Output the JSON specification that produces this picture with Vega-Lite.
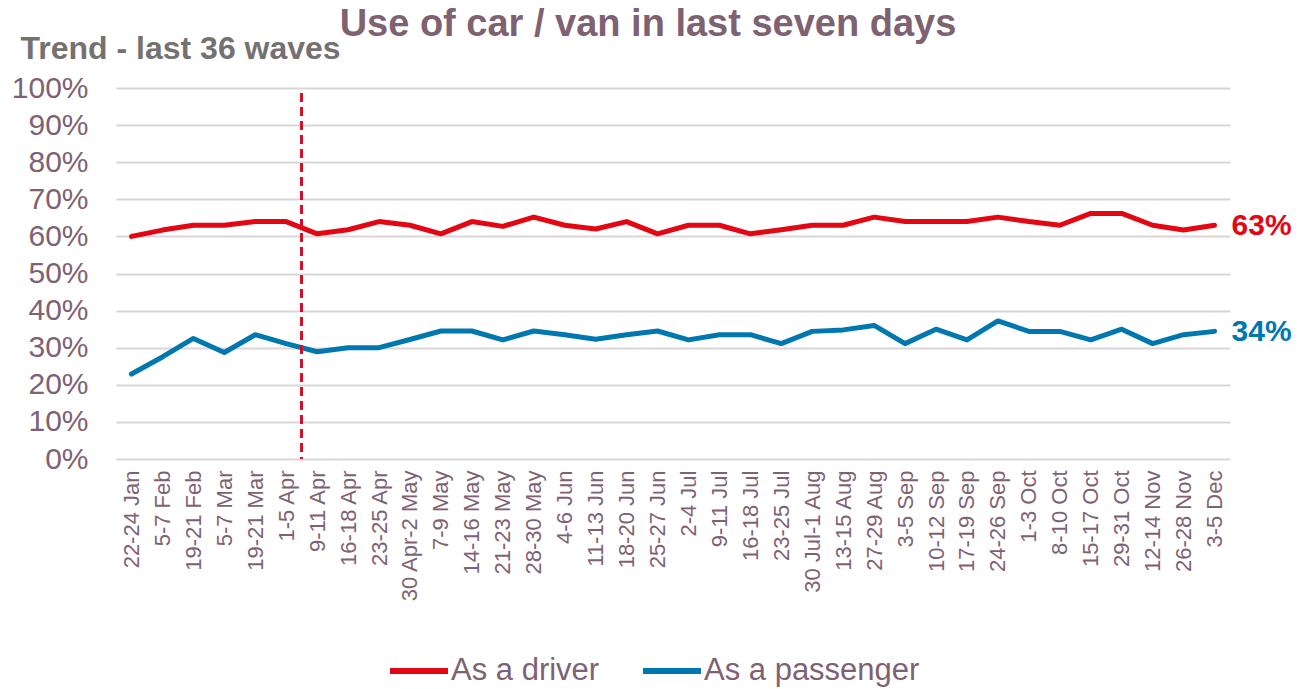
{
  "$schema": "https://vega.github.io/schema/vega-lite/v6.json",
  "autosize": {"type": "none"},
  "width": 1114,
  "height": 371,
  "padding": {"left": 116, "top": 88, "right": 80, "bottom": 230},
  "background": "white",
  "config": {
    "font": "Liberation Sans",
    "view": {"stroke": null}
  },
  "title": {
    "text": "Use of car / van in last seven days",
    "fontSize": 38,
    "fontWeight": "bold",
    "color": "#7F6272",
    "anchor": "middle",
    "dx": -25,
    "offset": -12
  },
  "data": {
    "values": [
      {"wave": "22-24 Jan", "series": "As a driver", "value": 0.60},
      {"wave": "5-7 Feb", "series": "As a driver", "value": 0.617},
      {"wave": "19-21 Feb", "series": "As a driver", "value": 0.63},
      {"wave": "5-7 Mar", "series": "As a driver", "value": 0.63},
      {"wave": "19-21 Mar", "series": "As a driver", "value": 0.64},
      {"wave": "1-5 Apr", "series": "As a driver", "value": 0.64},
      {"wave": "9-11 Apr", "series": "As a driver", "value": 0.607},
      {"wave": "16-18 Apr", "series": "As a driver", "value": 0.618},
      {"wave": "23-25 Apr", "series": "As a driver", "value": 0.64},
      {"wave": "30 Apr-2 May", "series": "As a driver", "value": 0.63},
      {"wave": "7-9 May", "series": "As a driver", "value": 0.607},
      {"wave": "14-16 May", "series": "As a driver", "value": 0.64},
      {"wave": "21-23 May", "series": "As a driver", "value": 0.627},
      {"wave": "28-30 May", "series": "As a driver", "value": 0.652},
      {"wave": "4-6 Jun", "series": "As a driver", "value": 0.63},
      {"wave": "11-13 Jun", "series": "As a driver", "value": 0.62},
      {"wave": "18-20 Jun", "series": "As a driver", "value": 0.64},
      {"wave": "25-27 Jun", "series": "As a driver", "value": 0.607},
      {"wave": "2-4 Jul", "series": "As a driver", "value": 0.63},
      {"wave": "9-11 Jul", "series": "As a driver", "value": 0.63},
      {"wave": "16-18 Jul", "series": "As a driver", "value": 0.607},
      {"wave": "23-25 Jul", "series": "As a driver", "value": 0.618},
      {"wave": "30 Jul-1 Aug", "series": "As a driver", "value": 0.63},
      {"wave": "13-15 Aug", "series": "As a driver", "value": 0.63},
      {"wave": "27-29 Aug", "series": "As a driver", "value": 0.652},
      {"wave": "3-5 Sep", "series": "As a driver", "value": 0.64},
      {"wave": "10-12 Sep", "series": "As a driver", "value": 0.64},
      {"wave": "17-19 Sep", "series": "As a driver", "value": 0.64},
      {"wave": "24-26 Sep", "series": "As a driver", "value": 0.652},
      {"wave": "1-3 Oct", "series": "As a driver", "value": 0.64},
      {"wave": "8-10 Oct", "series": "As a driver", "value": 0.63},
      {"wave": "15-17 Oct", "series": "As a driver", "value": 0.662},
      {"wave": "29-31 Oct", "series": "As a driver", "value": 0.662},
      {"wave": "12-14 Nov", "series": "As a driver", "value": 0.63},
      {"wave": "26-28 Nov", "series": "As a driver", "value": 0.617},
      {"wave": "3-5 Dec", "series": "As a driver", "value": 0.63},
      {"wave": "22-24 Jan", "series": "As a passenger", "value": 0.229},
      {"wave": "5-7 Feb", "series": "As a passenger", "value": 0.275},
      {"wave": "19-21 Feb", "series": "As a passenger", "value": 0.325},
      {"wave": "5-7 Mar", "series": "As a passenger", "value": 0.287},
      {"wave": "19-21 Mar", "series": "As a passenger", "value": 0.335},
      {"wave": "1-5 Apr", "series": "As a passenger", "value": 0.311},
      {"wave": "9-11 Apr", "series": "As a passenger", "value": 0.289},
      {"wave": "16-18 Apr", "series": "As a passenger", "value": 0.30},
      {"wave": "23-25 Apr", "series": "As a passenger", "value": 0.30},
      {"wave": "30 Apr-2 May", "series": "As a passenger", "value": 0.322},
      {"wave": "7-9 May", "series": "As a passenger", "value": 0.345},
      {"wave": "14-16 May", "series": "As a passenger", "value": 0.345},
      {"wave": "21-23 May", "series": "As a passenger", "value": 0.321},
      {"wave": "28-30 May", "series": "As a passenger", "value": 0.345},
      {"wave": "4-6 Jun", "series": "As a passenger", "value": 0.335},
      {"wave": "11-13 Jun", "series": "As a passenger", "value": 0.323},
      {"wave": "18-20 Jun", "series": "As a passenger", "value": 0.335},
      {"wave": "25-27 Jun", "series": "As a passenger", "value": 0.345},
      {"wave": "2-4 Jul", "series": "As a passenger", "value": 0.321},
      {"wave": "9-11 Jul", "series": "As a passenger", "value": 0.335},
      {"wave": "16-18 Jul", "series": "As a passenger", "value": 0.335},
      {"wave": "23-25 Jul", "series": "As a passenger", "value": 0.311},
      {"wave": "30 Jul-1 Aug", "series": "As a passenger", "value": 0.344},
      {"wave": "13-15 Aug", "series": "As a passenger", "value": 0.348},
      {"wave": "27-29 Aug", "series": "As a passenger", "value": 0.36},
      {"wave": "3-5 Sep", "series": "As a passenger", "value": 0.311},
      {"wave": "10-12 Sep", "series": "As a passenger", "value": 0.35},
      {"wave": "17-19 Sep", "series": "As a passenger", "value": 0.321},
      {"wave": "24-26 Sep", "series": "As a passenger", "value": 0.372},
      {"wave": "1-3 Oct", "series": "As a passenger", "value": 0.344},
      {"wave": "8-10 Oct", "series": "As a passenger", "value": 0.344},
      {"wave": "15-17 Oct", "series": "As a passenger", "value": 0.321},
      {"wave": "29-31 Oct", "series": "As a passenger", "value": 0.35},
      {"wave": "12-14 Nov", "series": "As a passenger", "value": 0.311},
      {"wave": "26-28 Nov", "series": "As a passenger", "value": 0.335},
      {"wave": "3-5 Dec", "series": "As a passenger", "value": 0.344}
    ]
  },
  "encoding": {
    "x": {
      "field": "wave",
      "type": "ordinal",
      "sort": null,
      "scale": {
        "type": "point",
        "padding": 0.5,
        "domain": ["22-24 Jan", "5-7 Feb", "19-21 Feb", "5-7 Mar", "19-21 Mar", "1-5 Apr", "9-11 Apr", "16-18 Apr", "23-25 Apr", "30 Apr-2 May", "7-9 May", "14-16 May", "21-23 May", "28-30 May", "4-6 Jun", "11-13 Jun", "18-20 Jun", "25-27 Jun", "2-4 Jul", "9-11 Jul", "16-18 Jul", "23-25 Jul", "30 Jul-1 Aug", "13-15 Aug", "27-29 Aug", "3-5 Sep", "10-12 Sep", "17-19 Sep", "24-26 Sep", "1-3 Oct", "8-10 Oct", "15-17 Oct", "29-31 Oct", "12-14 Nov", "26-28 Nov", "3-5 Dec"]
      },
      "axis": {
        "title": null,
        "labelAngle": -90,
        "labelFontSize": 22,
        "labelColor": "#7F6272",
        "labelPadding": 11,
        "labelOverlap": false,
        "ticks": false,
        "domain": false,
        "grid": false
      }
    },
    "y": {
      "field": "value",
      "type": "quantitative",
      "scale": {"domain": [0, 1], "nice": false},
      "axis": {
        "values": [0, 0.1, 0.2, 0.3, 0.4, 0.5, 0.6, 0.7, 0.8, 0.9, 1],
        "format": ".0%",
        "labelFontSize": 30,
        "labelColor": "#7F6272",
        "labelPadding": 28,
        "labelOverlap": false,
        "ticks": false,
        "domain": false,
        "grid": true,
        "gridColor": "#DAD5D7",
        "gridWidth": 2,
        "title": "Trend - last 36 waves",
        "titleAngle": 0,
        "titleAlign": "left",
        "titleBaseline": "alphabetic",
        "titleX": -96,
        "titleY": -30,
        "titleFontSize": 32,
        "titleFontWeight": "bold",
        "titleColor": "#767171"
      }
    }
  },
  "layer": [
    {
      "mark": {"type": "line", "strokeWidth": 5, "strokeCap": "round", "strokeJoin": "round"},
      "encoding": {
        "color": {
          "field": "series",
          "type": "nominal",
          "scale": {"domain": ["As a driver", "As a passenger"], "range": ["#E30613", "#0078AF"]},
          "legend": {
            "title": null,
            "orient": "none",
            "direction": "horizontal",
            "legendX": 271,
            "legendY": 551,
            "symbolType": "stroke",
            "symbolSize": 3364,
            "symbolStrokeWidth": 6,
            "labelFontSize": 31,
            "labelColor": "#7F6272",
            "labelOffset": 0,
            "labelLimit": 500,
            "columnPadding": 31
          }
        }
      }
    },
    {
      "mark": {"type": "rule", "color": "#D0102E", "strokeWidth": 2, "strokeDash": [8, 6], "xOffset": 15.5},
      "encoding": {
        "x": {"datum": "1-5 Apr"},
        "y": {"datum": 0.985},
        "y2": {"datum": 0}
      }
    },
    {
      "transform": [{"filter": "datum.wave === '3-5 Dec'"}],
      "mark": {"type": "text", "align": "left", "baseline": "middle", "dx": 17, "dy": 1, "fontSize": 30, "fontWeight": "bold"},
      "encoding": {
        "text": {"field": "value", "type": "quantitative", "format": ".0%"},
        "color": {"field": "series", "type": "nominal", "legend": null}
      }
    }
  ]
}
